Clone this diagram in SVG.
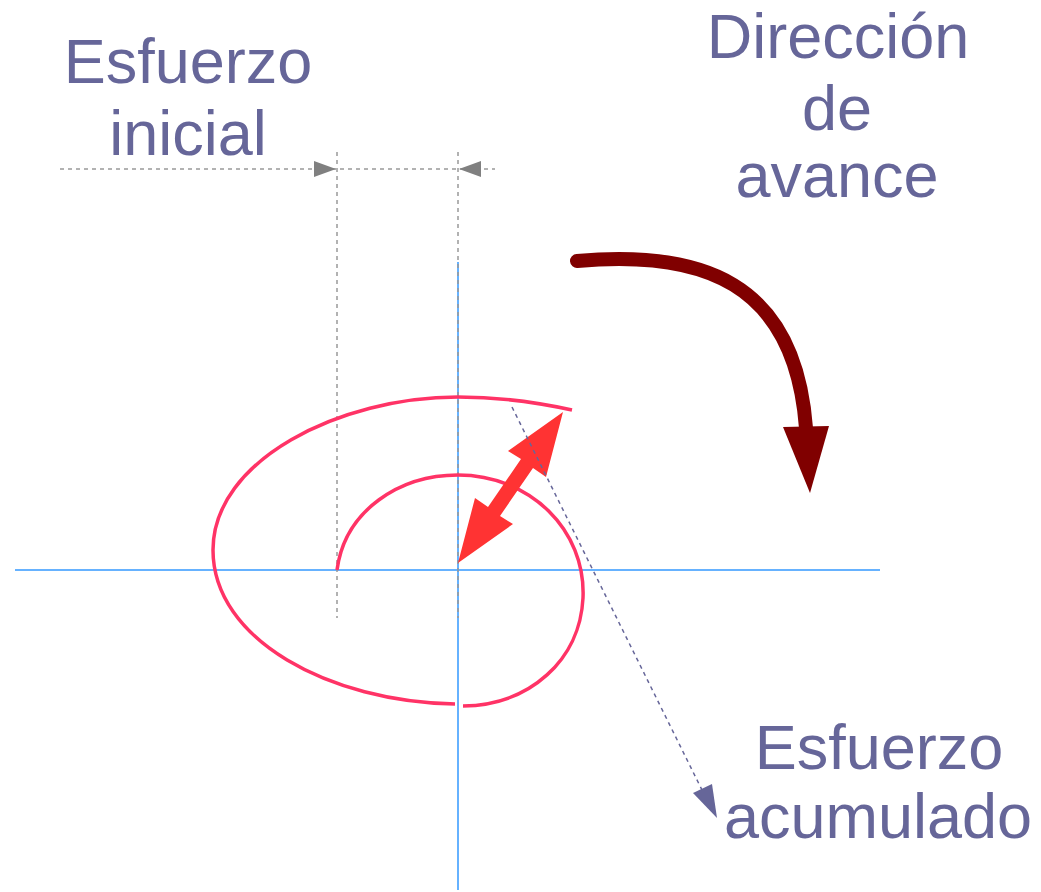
<svg xmlns="http://www.w3.org/2000/svg" width="1041" height="892" viewBox="0 0 1041 892">
<style>
.lbl{font-family:"Liberation Sans",Arial,sans-serif;font-size:63px;fill:#666699;text-anchor:middle}
.dim{stroke:#999999;stroke-width:1.5;stroke-dasharray:4,4;fill:none}
.axis{stroke:#3399ff;stroke-width:1.5;fill:none}
.spiral{stroke:#ff3366;stroke-width:3.5;fill:none}
</style>
<rect width="1041" height="892" fill="#ffffff"/>
<g id="axes">
<line class="axis" x1="15" y1="570" x2="880" y2="570"/>
<line class="axis" x1="458" y1="262" x2="458" y2="890"/>
</g>
<g id="dimension">
<line class="dim" x1="60" y1="169" x2="495" y2="169"/>
<line class="dim" x1="337" y1="152" x2="337" y2="618"/>
<line class="dim" x1="458" y1="152" x2="458" y2="618"/>
<polygon points="314,161 336,169 314,177" fill="#808080"/>
<polygon points="481,161 459,169 481,177" fill="#808080"/>
</g>
<g id="spiral">
<path class="spiral" d="M337,570 C345,510 400,475 458,475 C530,475 586,530 583,598 C580,660 530,705 463,706"/>
<path class="spiral" d="M455,704 C330,702 213,640 213,550 C213,460 340,397 458,397 C500,397 540,403 572,410"/>
</g>
<g id="connectors">
<polygon id="double-arrow" points="563,412 508,451 521,459 488,507 475,498 458,563 513,524 500,516 533,468 546,477" fill="#ff3333"/>
<line x1="512" y1="407" x2="703" y2="792" stroke="#666699" stroke-width="1.5" stroke-dasharray="4,4"/>
<polygon points="693,793 712,784 717,818" fill="#666699"/>
<path d="M577,261 C700,250 795,280 806,428" stroke="#800000" stroke-width="14" fill="none" stroke-linecap="round"/>
<polygon points="783,427 829,426 810,493" fill="#800000"/>
</g>
<g id="label-initial">
<text class="lbl" x="188" y="83">Esfuerzo</text>
<text class="lbl" x="188" y="155">inicial</text>
</g>
<g id="label-direction">
<text class="lbl" x="838" y="58">Dirección</text>
<text class="lbl" x="837" y="130">de</text>
<text class="lbl" x="837" y="197">avance</text>
</g>
<g id="label-accum">
<text class="lbl" x="879" y="769">Esfuerzo</text>
<text class="lbl" x="878" y="838">acumulado</text>
</g>
</svg>
